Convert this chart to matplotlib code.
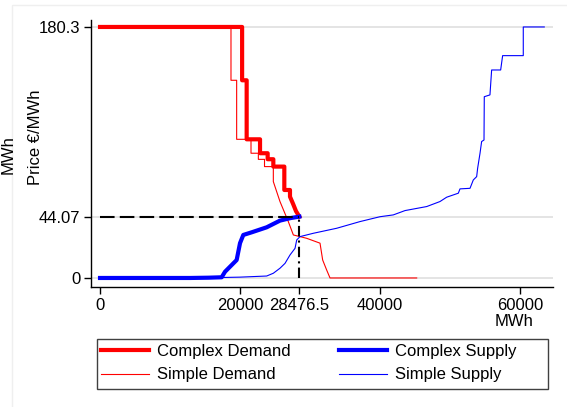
import matplotlib
matplotlib.use("Agg")
import matplotlib.pyplot as plt
from matplotlib.patches import Rectangle

plt.rcParams['font.family'] = ['Liberation Sans', 'DejaVu Sans']

# equilibrium
eq_q = 28476.5
eq_p = 44.07

# Complex Demand (thick red)
cd_x = [0, 20300, 20300, 20950, 20950, 22860, 22860, 23950, 23950, 24760, 24760,
        26330, 26330, 27140, 27140, 27600, 28000, 28476.5]
cd_y = [180.3, 180.3, 142, 142, 99.6, 99.6, 89.6, 89.6, 85.3, 85.3, 80,
        80, 63.2, 63.2, 58.4, 53, 48, 44.07]

# Simple Demand (thin red)
sd_x = [0, 18710, 18710, 19520, 19520, 21570, 21570, 22620, 22620, 23500, 23500,
        24760, 24760, 25710, 26900, 27620, 29520, 31430, 31810, 32380, 32860, 45240]
sd_y = [180.3, 180.3, 142, 142, 99.6, 99.6, 89.6, 89.6, 85.2, 85.2, 80,
        80, 69.2, 54.9, 40.5, 30.9, 28.5, 25, 12.9, 5.7, 0, 0]

# Complex Supply (thick blue)
cs_x = [0, 12860, 15500, 17380, 17860, 18810, 19520, 20000, 20470, 21670,
        23810, 25710, 27200, 28476.5]
cs_y = [0, 0, 0.2, 0.5, 4.5, 9.3, 12.9, 25, 30.9, 32.8,
        36.4, 41.2, 43.0, 44.07]

# Simple Supply (thin blue)
ss_x = [0, 14000, 20000, 23810, 24760, 25710, 26430, 27140, 27860, 28100, 28570,
        30470, 33810, 37140, 40000, 41900, 43570, 46670, 48570, 49520, 51190,
        51430, 52860, 53330, 53810, 53950, 54290, 54520, 54860, 54900, 55710,
        55950, 57240, 57520, 60470, 60470, 63470]
ss_y = [0, 0, 0.6, 1.4, 3.4, 7, 10.5, 16.5, 21.3, 27.3, 29.7,
        32.1, 35.7, 40.5, 44.0, 45.3, 48.4, 51.3, 54.9, 58, 60.9,
        64, 64.4, 70.4, 72.8, 78.8, 89.6, 98, 99.1, 130.2, 131.5,
        149.4, 149.4, 159.7, 159.7, 180.3, 180.3]

y_ticks = [0, 44.07, 180.3]
y_tick_labels = ["0", "44.07", "180.3"]
x_ticks = [0, 20000, 28476.5, 40000, 60000]
x_tick_labels = ["0", "20000", "28476.5", "40000", "60000"]

W, H = 567, 407
fs = 12

fig = plt.figure(figsize=(W / 100, H / 100), dpi=100)
fig.patches.append(Rectangle((12 / W, -0.1), 1.2, 1 - 5 / H + 0.1,
                             transform=fig.transFigure, fill=False,
                             edgecolor='#efefef', lw=1))
ax = fig.add_axes([91 / W, 1 - 287.3 / H, (553.3 - 91) / W, (287.3 - 20) / H])

for yt in y_ticks:
    ax.axhline(yt, color='#e4e4e4', lw=1.4, zorder=0)

ax.plot(cd_x, cd_y, color='#ff0000', lw=3, label='Complex Demand', zorder=4)
ax.plot(sd_x, sd_y, color='#ff0000', lw=0.8, label='Simple Demand', zorder=3)
ax.plot(cs_x, cs_y, color='#0000ff', lw=3, label='Complex Supply', zorder=4)
ax.plot(ss_x, ss_y, color='#0000ff', lw=0.8, label='Simple Supply', zorder=3)

ax.plot([0, eq_q], [eq_p, eq_p], color='black', lw=1.5, ls=(0, (7, 2.5)), zorder=5)
ax.plot([eq_q, eq_q], [0, eq_p], color='black', lw=1.5, ls=(0, (5, 2, 1, 2)), zorder=5)

ax.set_xlim(-1290, 64760)
ax.set_ylim(-6.7, 185.3)
ax.set_xticks(x_ticks)
ax.set_xticklabels(x_tick_labels)
ax.set_yticks(y_ticks)
ax.set_yticklabels(y_tick_labels)
ax.tick_params(labelsize=fs, length=5, width=1, color='black', pad=2.5)
for s in ['top', 'right']:
    ax.spines[s].set_visible(False)
for s in ['left', 'bottom']:
    ax.spines[s].set_linewidth(1)

fig.text(36 / W, 1 - 137 / H, "Price €/MWh", rotation=90, ha='center', va='center', fontsize=fs)
fig.text(514 / W, 1 - 321 / H, "MWh", ha='center', va='center', fontsize=fs)
fig.text(1 / W, 1 - 155 / H, "MWh", rotation=90, ha='left', va='center', fontsize=fs)

# legend frame drawn separately, wider than its entries
fig.patches.append(Rectangle((97 / W, 1 - 389.3 / H), 451 / W, 50 / H,
                             transform=fig.transFigure, fill=False,
                             edgecolor='#404040', lw=1, zorder=10))
handles, labels = ax.get_legend_handles_labels()
fig.legend(handles, labels, ncol=2, loc='upper left',
           bbox_to_anchor=(101 / W, 1 - 344 / H), frameon=False, fontsize=fs,
           handlelength=2.9, handletextpad=0.45, borderaxespad=0, borderpad=0,
           labelspacing=0.5, columnspacing=2.9)

fig.savefig("out.png", dpi=100)
